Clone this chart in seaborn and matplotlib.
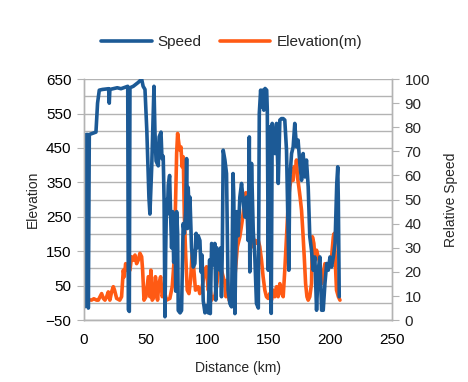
import numpy as np
import pandas as pd
import matplotlib
matplotlib.use("Agg")
import matplotlib.pyplot as plt
import seaborn as sns
from matplotlib.ticker import MultipleLocator

# speed trace (km, relative speed 0-100)
dist_speed = [0.0, 0.4, 1.0, 1.8, 3.0, 3.5, 4.3, 9.7, 11.0, 12.4, 15.0, 20.0, 20.5, 21.0,
              27.0, 30.0, 35.5, 36.0, 36.8, 37.3, 40.0, 44.0, 46.8, 48.0, 49.5, 51.0,
              52.7, 53.5, 55.0, 56.8, 57.6, 58.5, 60.3, 61.0, 62.5, 63.3, 64.3, 65.0,
              65.7, 66.3, 67.0, 67.7, 68.4, 69.5, 70.5, 71.1, 72.0, 72.8, 73.8, 74.5,
              75.2, 76.0, 76.5, 78.0, 79.2, 80.5, 81.5, 82.5, 83.3, 84.0, 84.6, 85.5,
              86.0, 87.3, 88.7, 90.0, 91.0, 92.0, 92.7, 94.1, 95.0, 95.8, 96.8, 98.2,
              99.5, 100.9, 102.0, 102.5, 103.6, 105.0, 105.5, 106.2, 107.0, 107.8,
              108.9, 110.3, 111.0, 111.6, 112.3, 113.0, 114.4, 115.7, 117.0, 118.4,
              119.8, 121.0, 121.6, 122.5, 123.3, 124.0, 125.2, 126.5, 127.9, 129.0,
              130.5, 131.9, 133.3, 134.2, 134.6, 136.0, 137.4, 138.7, 140.0, 141.5,
              142.3, 143.4, 144.2, 145.0, 146.0, 147.0, 148.3, 148.8, 149.6, 150.5,
              152.0, 152.8, 155.0, 156.3, 157.7, 159.0, 160.3, 161.7, 163.0, 164.4,
              165.8, 166.3, 167.0, 168.5, 169.8, 171.1, 172.5, 173.8, 175.2, 176.6,
              177.9, 179.3, 180.6, 182.0, 183.3, 184.7, 186.0, 187.4, 188.8, 190.1,
              191.5, 192.9, 194.2, 195.6, 197.0, 198.3, 199.7, 201.0, 202.4, 203.8,
              205.2, 206.0, 206.5, 207.2]
speed = [31, 5.5, 75.7, 77, 77, 5, 77, 78, 90, 95.4, 95.7, 96, 90, 95.7,
         96.4, 96, 97, 4.3, 3.6, 96.4, 97, 98.6, 100, 97, 95.7, 78.6,
         51, 44, 64, 97, 78, 66, 64, 76, 78, 67, 68, 50,
         1.4, 28, 50, 44, 56, 60, 40, 30, 45, 24, 40, 12,
         45, 36, 4, 3, 4, 40, 36, 45, 67, 38, 55, 42,
         51, 30, 22, 23.5, 36, 30, 35, 33, 20, 27, 8, 3,
         6, 3, 25, 2.7, 31.8, 28, 23, 31.8, 8.3, 30,
         26, 20.7, 30, 9.7, 30, 70.5, 66.4, 60.8, 12.4, 6.9,
         5.5, 60.8, 51, 2.7, 30, 45, 35, 51, 56.7, 51,
         42.8, 51, 33, 76, 20, 65, 37, 26, 6.9, 5,
         85.7, 95.4, 88.5, 95.4, 87.1, 96.1, 95.4, 87.1, 20.7, 80.2,
         2.8, 81.6, 69.1, 81.6, 56.7, 83, 83.6, 83.6, 83, 70.5,
         34.6, 20.7, 58, 69.1, 71.9, 81.6, 71.9, 74.7, 65, 58,
         69.1, 59.4, 66.4, 55.3, 34.6, 29, 20.7, 26.2, 4.1, 20.7,
         26.2, 4.1, 4.1, 15.2, 23.5, 20.7, 26.2, 22, 26.2, 31.8,
         56.7, 63.6, 48.4, 9.7]

# elevation trace (km, m)
dist_elev = [0.0, 0.8, 3.0, 6.0, 8.0, 10.3, 11.6, 13.0, 14.3, 15.7, 17.0, 18.4, 19.7, 21.0,
             22.4, 23.8, 24.8, 26.5, 29.0, 30.5, 31.9, 32.7, 33.8, 35.0, 37.3, 38.6,
             40.0, 41.4, 42.7, 44.0, 45.4, 46.8, 47.6, 48.7, 50.3, 51.5, 52.2, 53.5,
             54.3, 55.4, 57.0, 58.0, 59.7, 60.8, 62.2, 63.5, 65.0, 67.0, 69.7, 71.6,
             73.0, 74.3, 75.2, 76.0, 77.0, 77.8, 78.7, 79.7, 80.6, 81.4, 82.5, 83.8,
             85.2, 86.5, 87.9, 89.2, 90.5, 92.7, 94.0, 95.5, 98.2, 99.5, 100.8, 102.2,
             103.6, 105.0, 106.2, 107.6, 108.9, 110.3, 111.6, 113.0, 114.4, 115.2,
             116.3, 117.8, 119.8, 122.5, 123.8, 124.5, 126.5, 128.5, 129.5, 130.6,
             131.4, 132.5, 133.3, 134.2, 135.2, 136.0, 137.4, 138.7, 140.0, 141.4,
             142.7, 144.1, 145.4, 146.8, 148.1, 149.5, 150.8, 152.2, 153.6, 154.9,
             156.3, 157.6, 159.0, 160.3, 161.7, 163.0, 164.4, 165.8, 167.0, 168.5,
             169.8, 170.5, 171.7, 172.5, 173.3, 174.4, 175.4, 176.6, 177.6, 178.8,
             179.9, 181.0, 182.0, 183.3, 184.7, 185.4, 186.6, 187.4, 188.8, 190.1,
             191.5, 192.9, 194.2, 195.6, 197.0, 198.3, 199.7, 201.0, 202.4, 203.2,
             204.3, 205.0, 206.5, 207.8]
elevation = [15, 8, 10, 8, 12, 8, 8, 18, 27, 13, 8, 18, 32, 8,
             32, 47, 37, 13, 8, 18, 95, 76, 114, 95, 95, 134,
             124, 139, 114, 124, 144, 134, 95, 8, 18, 56, 76, 18,
             95, 8, 18, 76, 8, 56, 76, 18, 37, 8, 13, 47,
             114, 289, 434, 492, 463, 444, 453, 395, 424, 260, 144, 37,
             27, 66, 153, 95, 37, 47, 27, 37, 95, 105, 37, 47,
             8, 18, 18, 47, 85, 153, 95, 76, 56, 18,
             66, 8, 8, 76, 134, 163, 192, 240, 269, 300,
             320, 290, 231, 192, 160, 182, 163, 182, 173, 182,
             163, 124, 76, 37, 18, 13, 27, 8, 37, 18,
             47, 18, 56, 30, 18, 95, 192, 289, 337, 366,
             356, 395, 386, 415, 366, 337, 308, 269, 211, 134,
             56, 18, 8, 18, 56, 192, 173, 134, 153, 134,
             114, 56, 85, 114, 95, 114, 105, 134, 192, 202,
             95, 37, 18, 8]

blue = "#1c5a96"
orange = "#ff5a14"

sns.set_style("white")
plt.rcParams['font.family'] = ['Liberation Sans', 'DejaVu Sans']

fig = plt.figure(figsize=(4.68, 3.82), dpi=100)
ax = fig.add_axes([0.1795, 0.162, 0.658, 0.631])
ax2 = ax.twinx()

elev_df = pd.DataFrame({"Distance": dist_elev, "Elevation": elevation})
speed_df = pd.DataFrame({"Distance": dist_speed, "Speed": speed})

sns.lineplot(data=elev_df, x="Distance", y="Elevation", ax=ax, color=orange,
             linewidth=2.6, estimator=None, sort=False, label="Elevation(m)", legend=False)
sns.lineplot(data=speed_df, x="Distance", y="Speed", ax=ax2, color=blue,
             linewidth=2.6, estimator=None, sort=False, label="Speed", legend=False)

ax.set_xlim(0, 250)
ax.set_ylim(-50, 650)
ax2.set_ylim(0, 100)
ax.set_xticks(np.arange(0, 251, 50))
ax.set_yticks(np.arange(-50, 651, 100))
ax.yaxis.set_minor_locator(MultipleLocator(50))
ax2.set_yticks(np.arange(0, 101, 10))

grid_col = "#b3b3b3"
ax.grid(True, axis="y", which="both", color=grid_col, linewidth=1)
ax.set_axisbelow(True)
for a in (ax, ax2):
    a.spines["top"].set_visible(False)
    for s in ("left", "right", "bottom"):
        a.spines[s].set_color(grid_col)
        a.spines[s].set_linewidth(1)
ax.tick_params(axis="both", which="major", length=5, color=grid_col, labelsize=11,
               labelcolor="black", pad=4)
ax.tick_params(axis="y", which="minor", length=0)
ax2.tick_params(axis="y", length=5, color=grid_col, labelsize=11, pad=4)

ax.set_xlabel("Distance (km)", fontsize=10, labelpad=10)
ax.set_ylabel("Elevation", fontsize=10, labelpad=4)
ax2.set_ylabel("Relative Speed", fontsize=10, labelpad=10)

h1, l1 = ax2.get_legend_handles_labels()
h2, l2 = ax.get_legend_handles_labels()
fig.legend(h1 + h2, l1 + l2, loc="center", bbox_to_anchor=(0.495, 0.89), ncol=2,
           frameon=False, fontsize=11, handlelength=3.3, columnspacing=1.2,
           handletextpad=0.4)

fig.savefig("out.png", dpi=100)
